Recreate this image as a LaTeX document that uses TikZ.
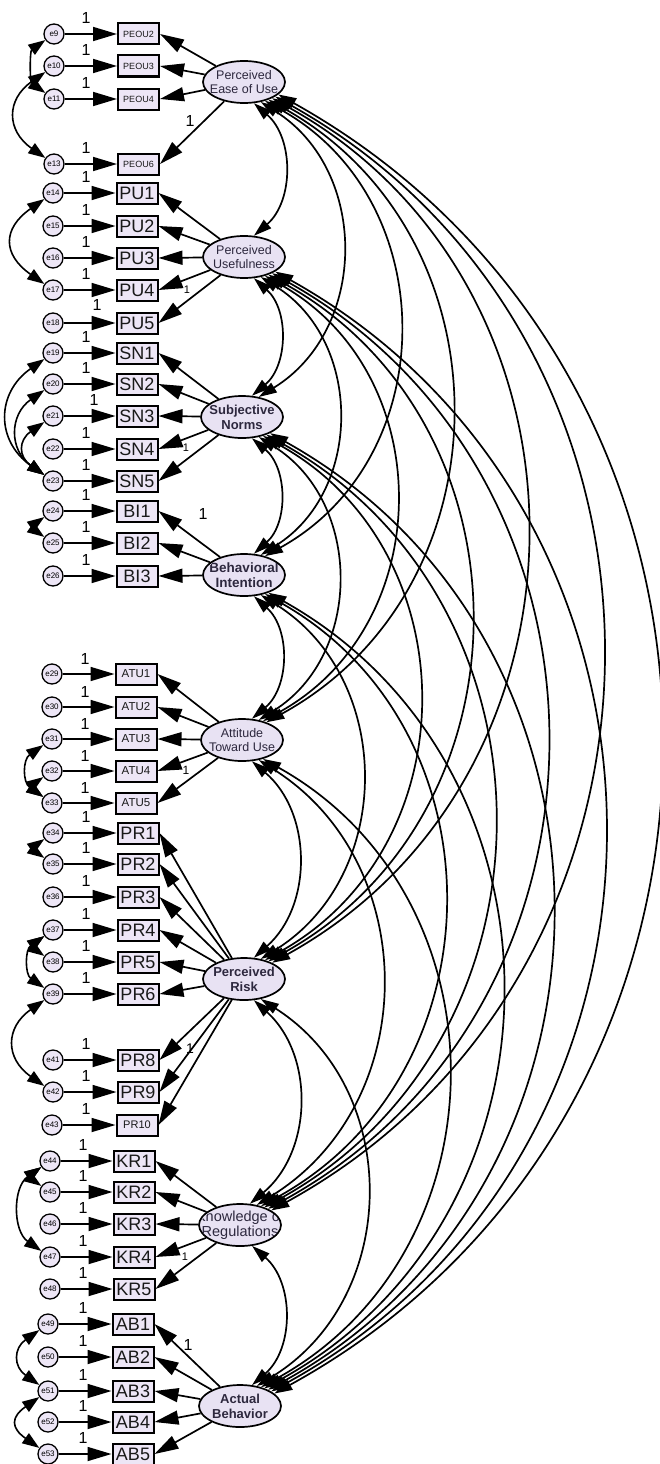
\documentclass[tikz,border=0pt]{standalone}
\usepackage{fontspec}
\setmainfont{Liberation Sans}
\usetikzlibrary{arrows.meta,shapes.geometric,calc}
\definecolor{fillc}{RGB}{237,230,246}
\definecolor{latc}{RGB}{232,226,243}
\definecolor{txt}{RGB}{45,40,62}
\begin{document}
\begin{tikzpicture}[x=1pt,y=1pt,
 obs/.style={draw, line width=2pt, fill=fillc, minimum width=41pt, minimum height=21pt, inner sep=0pt, text=black!90},
 big/.style={font=\fontsize{18}{18}\selectfont},
 sml/.style={font=\fontsize{9}{9}\selectfont},
 mid/.style={font=\fontsize{11.5}{11.5}\selectfont},
 err/.style={draw, circle, line width=1.3pt, fill=fillc, minimum size=20pt, inner sep=0pt, font=\fontsize{8}{8}\selectfont},
 lat/.style={draw, ellipse, line width=1.7pt, fill=latc, minimum width=82pt, minimum height=42pt, inner sep=0pt},
 lt/.style={align=center, text=txt, inner sep=0pt},
 one/.style={font=\fontsize{16}{16}\selectfont, inner sep=0pt},
 ld/.style={line width=1.7pt, -{Triangle[length=24pt,width=14pt]}},
 ea/.style={line width=1.7pt, -{Triangle[length=24pt,width=14pt]}},
 cov/.style={line width=1.7pt, {Triangle[length=18pt,width=11pt]}-{Triangle[length=18pt,width=11pt]}},
 ecov/.style={line width=1.6pt, {Triangle[length=17pt,width=12pt]}-{Triangle[length=17pt,width=12pt]}},
 ec/.style={out=215, in=145, looseness=#1},
 c1/.style={bend left=49, looseness=1.028},
 c2/.style={bend left=58, looseness=1.113},
 c3/.style={bend left=61, looseness=1.147}]
\useasboundingbox (0,0) rectangle (660,-1464);

% observed variables with errors
\foreach \n/\x/\y/\e/\ex in {PEOU2/138.5/34/e9/54, PEOU3/138.5/66/e10/54, PEOU4/138.5/99/e11/54, PEOU6/138.5/164/e13/54}{
  \node[obs, sml] (\n) at (\x,-\y) {\n};
  \node[err] (\e) at (\ex,-\y) {\e};
  \draw[ea] (\e) -- (\n);
  \node[one] (o\e) at (86,-\y+16) {1};
}
\foreach \n/\x/\y/\e/\ex in {PU1/137/193/e14/53, PU2/137/226/e15/53, PU3/137/258/e16/53, PU4/137/290/e17/53,
  SN1/137/353/e19/53, SN2/137/384/e20/53, SN4/137/449/e22/53, SN5/137/481/e23/53,
  BI1/137/511/e24/53, BI2/137/543/e25/53, BI3/137/576/e26/53,
  PR1/138/833/e34/53, PR2/138/864/e35/53, PR3/138/897/e36/53, PR4/138/930/e37/53, PR5/138/962/e38/53, PR6/138/994/e39/53,
  PR8/138/1060/e41/53, PR9/138/1092/e42/53}{
  \node[obs, big] (\n) at (\x,-\y) {\n};
  \node[err] (\e) at (\ex,-\y) {\e};
  \draw[ea] (\e) -- (\n);
  \node[one] (o\e) at (86,-\y+16) {1};
}
\node[obs, big] (PU5) at (137,-323) {PU5};
\node[err] (e18) at (53,-323) {e18};
\draw[ea] (e18) -- (PU5);
\node[one] (oe18) at (97,-305) {1};
\node[obs, big] (SN3) at (137,-416) {SN3};
\node[err] (e21) at (53,-416) {e21};
\draw[ea] (e21) -- (SN3);
\node[one] (oe21) at (94,-400) {1};
\foreach \n/\x/\y/\e/\ex in {KR1/134/1161/e44/50, KR2/134/1192/e45/50, KR3/134/1224/e46/50, KR4/134/1257/e47/50, KR5/134/1289/e48/50,
  AB1/133/1324/e49/48, AB2/133/1357/e50/48, AB3/133/1391/e51/48, AB4/133/1422/e52/48, AB5/133/1454/e53/48}{
  \node[obs, big] (\n) at (\x,-\y) {\n};
  \node[err] (\e) at (\ex,-\y) {\e};
  \draw[ea] (\e) -- (\n);
  \node[one] (o\e) at (83,-\y+16) {1};
}
\foreach \n/\x/\y/\e/\ex in {ATU1/136/674/e29/52, ATU2/136/707/e30/52, ATU3/136/739/e31/52, ATU4/136/771/e32/52, ATU5/136/803/e33/52}{
  \node[obs, mid] (\n) at (\x,-\y) {\n};
  \node[err] (\e) at (\ex,-\y) {\e};
  \draw[ea] (\e) -- (\n);
  \node[one] (o\e) at (85,-\y+15) {1};
}
\node[obs, font=\fontsize{11}{11}\selectfont] (PR10) at (137,-1125) {PR10};
\node[err] (e43) at (52,-1125) {e43};
\draw[ea] (e43) -- (PR10);
\node[one] (oe43) at (86,-1109) {1};

% latent variables
\node[lat] (PEOU) at (244,-82) {};
\node[lat] (PU) at (244,-257) {};
\node[lat] (SN) at (242,-417) {};
\node[lat] (BI) at (244,-575) {};
\node[lat] (ATU) at (242,-740) {};
\node[lat] (PR) at (244,-979) {};
\node[lat] (KR) at (240,-1225) {};
\node[lat] (AB) at (240,-1406) {};
\node[lt, font=\fontsize{12.5}{14}\selectfont] (PEOUt) at (PEOU) {Perceived\\Ease of Use};
\node[lt, font=\fontsize{12.5}{14.5}\selectfont] (PUt) at (PU) {Perceived\\Usefulness};
\node[lt, font=\bfseries\fontsize{13}{15}\selectfont] (SNt) at (SN) {Subjective\\Norms};
\begin{scope}
\clip (BI.center) ellipse [x radius=40pt, y radius=20pt];
\node[lt, font=\bfseries\fontsize{13.5}{15}\selectfont] (BIt) at (BI) {Behavioral\\Intention};
\end{scope}
\node[lt, font=\fontsize{12.5}{14.5}\selectfont] (ATUt) at (ATU) {Attitude\\Toward Use};
\node[lt, font=\bfseries\fontsize{13}{15}\selectfont] (PRt) at (PR) {Perceived\\Risk};
\begin{scope}
\clip (KR.center) ellipse [x radius=40pt, y radius=20pt];
\node[lt, font=\fontsize{14.5}{15}\selectfont] (KRt) at (KR) {Knowledge of\\Regulations};
\end{scope}
\node[lt, font=\bfseries\fontsize{13}{15}\selectfont] (ABt) at (AB) {Actual\\Behavior};

% loadings
\foreach \n in {PEOU2,PEOU3,PEOU4,PEOU6} \draw[ld] (PEOU) -- (\n.east);
\foreach \n in {PU1,PU2,PU3,PU4,PU5} \draw[ld] (PU) -- (\n.east);
\foreach \n in {SN1,SN2,SN3,SN4,SN5} \draw[ld] (SN) -- (\n.east);
\foreach \n in {BI1,BI2,BI3} \draw[ld] (BI) -- (\n.east);
\foreach \n in {ATU1,ATU2,ATU3,ATU4,ATU5} \draw[ld] (ATU) -- (\n.east);
\foreach \n in {PR1,PR2,PR3,PR4,PR5,PR6,PR8,PR9,PR10} \draw[ld] (PR) -- (\n.east);
\foreach \n in {KR1,KR2,KR3,KR4,KR5} \draw[ld] (KR) -- (\n.east);
\foreach \n in {AB1,AB2,AB3,AB4,AB5} \draw[ld] (AB) -- (\n.east);

% loading labels
\node[one] (l1) at (190,-121) {1};
\node[font=\fontsize{11}{11}\selectfont, inner sep=0pt] (l2) at (187,-290) {1};
\node[font=\fontsize{11}{11}\selectfont, inner sep=0pt] (l3) at (186,-448) {1};
\node[one] (l4) at (203,-514) {1};
\node[font=\fontsize{12}{12}\selectfont, inner sep=0pt] (l5) at (186,-770) {1};
\node[font=\fontsize{14}{14}\selectfont, inner sep=0pt] (l6) at (190,-1049) {1};
\node[font=\fontsize{11}{11}\selectfont, inner sep=0pt] (l7) at (185,-1257) {1};
\node[one] (l8) at (188,-1345) {1};

% error covariances
\draw[ecov] (e9) to[ec=0.92] (e11);
\draw[ecov] (e10) to[ec=1.43] (e13);
\draw[ecov] (e14) to[ec=1.55] (e17);
\draw[ecov] (e19) to[ec=1.31] (e23);
\draw[ecov] (e20) to[ec=1.30] (e23);
\draw[ecov] (e21) to[ec=1.54] (e23);
\draw[ecov] (e24) to[ec=1.9] (e25);
\draw[ecov] (e31) to[ec=1.25] (e33);
\draw[ecov] (e32) to[ec=1.6] (e33);
\draw[ecov] (e34) to[ec=1.85] (e35);
\draw[ecov] (e37) to[ec=1.8] (e38);
\draw[ecov] (e37) to[ec=1.17] (e39);
\draw[ecov] (e39) to[ec=1.43] (e42);
\draw[ecov] (e44) to[ec=1.8] (e45);
\draw[ecov] (e44) to[ec=1.07] (e47);
\draw[ecov] (e49) to[ec=1.48] (e51);
\draw[ecov] (e51) to[ec=1.76] (e53);

% latent covariances
\draw[cov] (PEOU.-65) to[c1] (PU.65);
\draw[cov] (PU.-65) to[c1] (SN.65);
\draw[cov] (SN.-65) to[c1] (BI.65);
\draw[cov] (BI.-65) to[c1] (ATU.65);
\draw[cov] (ATU.-65) to[c1] (PR.65);
\draw[cov] (PR.-65) to[c1] (KR.65);
\draw[cov] (KR.-60) to[c1] (AB.60);
\draw[cov] (PEOU.-50) to[c2] (SN.50);
\draw[cov] (PU.-50) to[c2] (BI.50);
\draw[cov] (SN.-50) to[c2] (ATU.50);
\draw[cov] (BI.-50) to[c2] (PR.50);
\draw[cov] (ATU.-50) to[c2] (KR.50);
\draw[cov] (PR.-50) to[c2] (AB.50);
\draw[cov] (PEOU.-42) to[c3] (BI.42);
\draw[cov] (PU.-42) to[c3] (ATU.42);
\draw[cov] (SN.-42) to[c3] (PR.42);
\draw[cov] (BI.-42) to[c3] (KR.42);
\draw[cov] (ATU.-42) to[c3] (AB.42);
\draw[cov] (PEOU.-36) to[c3] (ATU.36);
\draw[cov] (PU.-36) to[c3] (PR.36);
\draw[cov] (SN.-36) to[c3] (KR.36);
\draw[cov] (BI.-36) to[c3] (AB.36);
\draw[cov] (PEOU.-30) to[c3] (PR.30);
\draw[cov] (PU.-30) to[c3] (KR.30);
\draw[cov] (SN.-30) to[c3] (AB.30);
\draw[cov] (PEOU.-25) .. controls ($(PEOU.-25)+(-29.2:500pt)$) and ($(KR.25)+(28.8:500pt)$) .. (KR.25);
\draw[cov] (PU.-25) .. controls ($(PU.-25)+(-29.2:503pt)$) and ($(AB.25)+(28.8:503pt)$) .. (AB.25);
\draw[cov] (PEOU.-20) .. controls ($(PEOU.-20)+(-29.2:584pt)$) and ($(AB.20)+(28.8:584pt)$) .. (AB.20);
\end{tikzpicture}
\end{document}
